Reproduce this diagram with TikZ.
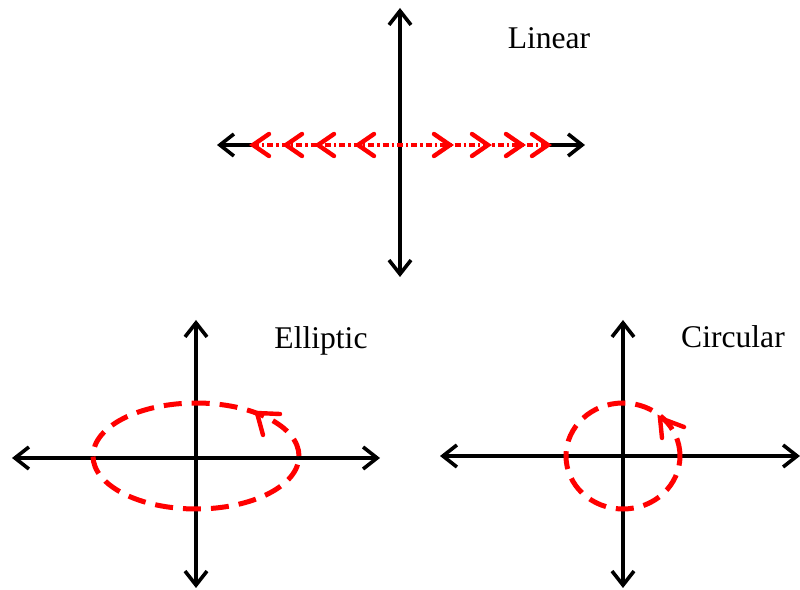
\documentclass[tikz,border=0pt]{standalone}
\usepackage{fontspec}
\setmainfont{Liberation Serif}
\usetikzlibrary{arrows.meta}

\begin{document}
\begin{tikzpicture}[
    x=0.5pt,y=0.5pt,
    >={Straight Barb[length=7pt,width=11pt]},
    axis/.style={<->,line width=1.8pt,black},
    wave/.style={red,line width=2.5pt,dash pattern=on 9pt off 5pt},
    barb/.style={red,line width=2.2pt,line cap=round},
    lbl/.style={font=\fontsize{15.8}{18}\selectfont},
]
\useasboundingbox (0,0) rectangle (800,590);

% Linear
\draw[axis] (217,445) -- (585,445);
\draw[axis] (400,582) -- (400,313);
\draw[white,line width=2.4pt] (253,445) -- (398,445) (402,445) -- (548,445);
\draw[red,line width=2.2pt,dash pattern=on 3pt off 1.5pt on 1.2pt off 1.5pt]
    (253,445) -- (548,445);
\foreach \t in {253,286,318,358}
    \draw[barb] (\t+16,456) -- (\t,445) -- (\t+16,434);
\foreach \t in {450,488,522,548}
    \draw[barb] (\t-16,456) -- (\t,445) -- (\t-16,434);
\node[lbl] (linear) at (549,552) {Linear};

% Elliptic
\draw[axis] (12,132) -- (380,132);
\draw[axis] (196,270) -- (196,2);
\draw[wave] (196,134) ellipse [x radius=103,y radius=53];
\draw[barb] (280,176) -- (257,177) -- (263,155);
\node[lbl] (elliptic) at (321,249) {Elliptic};

% Circular
\draw[axis] (440,134) -- (800,134);
\draw[axis] (623,270) -- (623,2);
\draw[wave] (623,134) ellipse [x radius=57,y radius=53];
\draw[barb] (684,163) -- (660,172) -- (662,152);
\node[lbl] (circular) at (733,253) {Circular};
\end{tikzpicture}
\end{document}
